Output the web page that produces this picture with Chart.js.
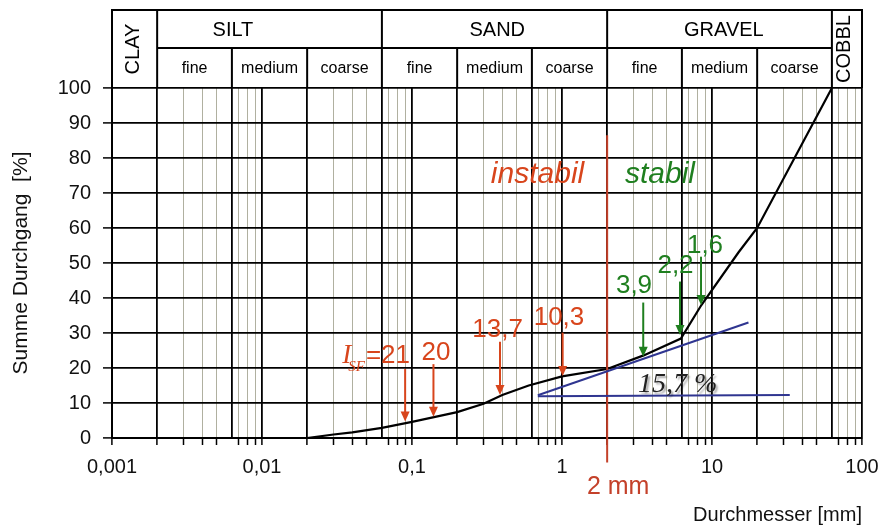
<!DOCTYPE html>
<html>
<head>
<meta charset="utf-8">
<script src="https://cdn.jsdelivr.net/npm/chart.js@4.4.1/dist/chart.umd.min.js"></script>
<style>
  html, body { margin: 0; padding: 0; background: #fff; }
</style>
</head>
<body>
<canvas id="sieveChart" width="885" height="529"></canvas>
<script>
// Sieblinie: Durchmesser [mm] / Summe Durchgang [%]
const diameters = [0.02, 0.03, 0.04, 0.063, 0.1, 0.2, 0.3, 0.4, 0.6, 1, 2, 3.5, 6.2, 8.5, 15, 20, 63];
const passing   = [0, 1, 1.6, 2.9, 4.6, 7.4, 9.8, 12.3, 15, 17.6, 19.7, 23.6, 28.4, 38, 53, 60, 100];

// tangent construction (blue) and the 2 mm limit (red)
const tangentX = [0.69, 17.5];
const tangentY = [12.2, 33];
const baseX = [0.69, 33];
const baseY = [11.9, 12.3];
const limitX = [2, 2];
const limitY = [-7, 86.5];

// I_SF arrows
const instableX    = [0.09, 0.139, 0.386, 1.01];
const instableTop  = [19.7, 21.1, 27.5, 30.1];
const instableTip  = [4.7, 6.1, 12.3, 17.7];
const instableText = ['21', '20', '13,7', '10,3'];
const instableLblX = [0.097, 0.1445, 0.372, 0.955];
const instableLblY = [21.4, 22.3, 28.9, 32.3];
const stableX    = [3.48, 6.12, 8.45];
const stableTop  = [38.7, 44.7, 51.8];
const stableTip  = [23.2, 29.4, 38];
const stableText = ['3,9', '2,2', '1,6'];
const stableLblX = [3.02, 5.71, 8.98];
const stableLblY = [41.3, 47.1, 52.9];

// axes
const xDecades = [0.001, 0.01, 0.1, 1, 10, 100];
const xTickLabels = ['0,001', '0,01', '0,1', '1', '10', '100'];
const xSubSteps = [1, 2, 3, 4, 5, 6.3, 7, 8, 9];

// soil fractions header
const mainFractions = ['CLAY', 'SILT', 'SAND', 'GRAVEL', 'COBBL'];
const mainBounds = [0.001, 0.002, 0.063, 2, 63, 100];
const mainLabelAt = [0.00136, 0.0064, 0.37, 12, 75];
const subFractions = ['fine', 'medium', 'coarse'];
const subBounds = [0.002, 0.0063, 0.02, 0.063, 0.2, 0.63, 2, 6.3, 20, 63];

const RED = '#d8451c';
const GREEN = '#1f7f1f';
const BLUE = '#2f3590';
const GRID = '#b0b0a0';
const SANS = "'Liberation Sans', Arial, sans-serif";
const SERIF = "'Liberation Serif', 'Times New Roman', serif";

const xTickValues = [];
xDecades.slice(0, -1).forEach(d => xSubSteps.forEach(m => xTickValues.push(m * d)));
xTickValues.push(100);

function isMajorX(v) {
  const m = v / Math.pow(10, Math.floor(Math.log10(v) + 1e-9));
  return Math.abs(m - 1) < 1e-6 || Math.abs(m - 2) < 1e-6 || Math.abs(m - 6.3) < 1e-6;
}

const toPoints = (xs, ys) => xs.map((v, i) => ({ x: v, y: ys[i] }));

const headerPlugin = {
  id: 'header',
  afterDraw(chart) {
    const { ctx, chartArea: a, scales: { x, y } } = chart;
    const top = 10, mid = 48, bot = a.top;
    ctx.save();
    ctx.strokeStyle = '#000';
    ctx.lineWidth = 2;
    ctx.beginPath();
    ctx.moveTo(a.left - 1, top); ctx.lineTo(a.right + 1, top);
    ctx.moveTo(x.getPixelForValue(subBounds[0]), mid);
    ctx.lineTo(x.getPixelForValue(subBounds[subBounds.length - 1]), mid);
    mainBounds.forEach(v => {
      const px = x.getPixelForValue(v);
      ctx.moveTo(px, top); ctx.lineTo(px, bot);
    });
    subBounds.forEach(v => {
      const px = x.getPixelForValue(v);
      ctx.moveTo(px, mid); ctx.lineTo(px, bot);
    });
    ctx.stroke();

    ctx.fillStyle = '#000';
    ctx.textBaseline = 'middle';
    ctx.textAlign = 'center';
    mainFractions.forEach((name, i) => {
      const px = x.getPixelForValue(mainLabelAt[i]);
      ctx.font = '20px ' + SANS;
      if (i === 0 || i === mainFractions.length - 1) {
        ctx.save();
        ctx.translate(px, (top + bot) / 2);
        ctx.rotate(-Math.PI / 2);
        ctx.fillText(name, 0, 1);
        ctx.restore();
      } else {
        ctx.fillText(name, px, 30);
      }
    });
    ctx.font = '16px ' + SANS;
    for (let i = 0; i < subBounds.length - 1; i++) {
      const l = x.getPixelForValue(subBounds[i]);
      const r = x.getPixelForValue(subBounds[i + 1]);
      ctx.fillText(subFractions[i % 3], (l + r) / 2, 69);
    }

    // short ticks at 5 % steps
    ctx.lineWidth = 1.5;
    ctx.beginPath();
    y.ticks.forEach(t => {
      if (t.value % 10 !== 0) {
        const py = y.getPixelForValue(t.value);
        ctx.moveTo(a.left - 5, py); ctx.lineTo(a.left, py);
      }
    });
    ctx.stroke();
    ctx.restore();
  }
};

const overlayPlugin = {
  id: 'overlay',
  afterDatasetsDraw(chart) {
    const { ctx, scales: { x, y } } = chart;
    ctx.save();
    const arrow = (xv, top, tip, color) => {
      const px = x.getPixelForValue(xv);
      const y0 = y.getPixelForValue(top);
      const y1 = y.getPixelForValue(tip);
      ctx.strokeStyle = color;
      ctx.fillStyle = color;
      ctx.lineWidth = 2;
      ctx.beginPath(); ctx.moveTo(px, y0); ctx.lineTo(px, y1 - 8); ctx.stroke();
      ctx.beginPath();
      ctx.moveTo(px - 4.5, y1 - 10); ctx.lineTo(px + 4.5, y1 - 10); ctx.lineTo(px, y1);
      ctx.closePath(); ctx.fill();
    };
    instableX.forEach((v, i) => arrow(v, instableTop[i], instableTip[i], RED));
    stableX.forEach((v, i) => arrow(v, stableTop[i], stableTip[i], GREEN));

    ctx.textBaseline = 'alphabetic';
    ctx.font = '26px ' + SANS;
    ctx.fillStyle = RED;
    instableText.forEach((txt, i) => {
      const px = x.getPixelForValue(instableLblX[i]);
      const py = y.getPixelForValue(instableLblY[i]);
      if (i === 0) {
        ctx.textAlign = 'right';
        const full = '=' + txt;
        ctx.fillText(full, px, py);
        const w = ctx.measureText(full).width;
        ctx.font = 'italic 15px ' + SERIF;
        ctx.fillText('SF', px - w - 1, py + 8);
        const ws = ctx.measureText('SF').width;
        ctx.font = 'italic 27px ' + SERIF;
        ctx.fillText('I', px - w - ws + 2, py);
        ctx.font = '26px ' + SANS;
      } else {
        ctx.textAlign = 'center';
        ctx.fillText(txt, px, py);
      }
    });
    ctx.fillStyle = GREEN;
    ctx.textAlign = 'center';
    stableText.forEach((txt, i) => {
      ctx.fillText(txt, x.getPixelForValue(stableLblX[i]), y.getPixelForValue(stableLblY[i]));
    });

    ctx.font = 'italic 30px ' + SANS;
    ctx.fillStyle = RED;
    ctx.fillText('instabil', x.getPixelForValue(0.687), y.getPixelForValue(72.9));
    ctx.fillStyle = GREEN;
    ctx.fillText('stabil', x.getPixelForValue(4.5), y.getPixelForValue(72.9));

    ctx.fillStyle = '#c4412a';
    ctx.font = '25px ' + SANS;
    ctx.fillText('2 mm', x.getPixelForValue(2) + 11, 494);

    ctx.textAlign = 'left';
    ctx.font = 'italic 28px ' + SERIF;
    ctx.shadowColor = 'rgba(0,0,0,0.35)';
    ctx.shadowOffsetX = 2;
    ctx.shadowOffsetY = 2;
    ctx.shadowBlur = 2;
    ctx.fillStyle = '#222';
    ctx.fillText('15,7 %', x.getPixelForValue(3.21), y.getPixelForValue(13.1));
    ctx.restore();
  }
};

new Chart(document.getElementById('sieveChart'), {
  type: 'line',
  data: {
    datasets: [
      {
        data: toPoints(tangentX, tangentY),
        borderColor: BLUE, borderWidth: 2, pointRadius: 0
      },
      {
        data: toPoints(baseX, baseY),
        borderColor: BLUE, borderWidth: 2, pointRadius: 0
      },
      {
        data: toPoints(limitX, limitY),
        borderColor: '#c4412a', borderWidth: 2, pointRadius: 0, clip: false
      },
      {
        data: toPoints(diameters, passing),
        borderColor: '#000', borderWidth: 2.2, pointRadius: 0
      }
    ]
  },
  options: {
    responsive: false,
    animation: false,
    devicePixelRatio: 1,
    layout: { padding: { left: 0, right: 23, top: 88, bottom: 0 } },
    plugins: { legend: { display: false }, tooltip: { enabled: false } },
    scales: {
      x: {
        type: 'logarithmic',
        min: 0.001,
        max: 100,
        afterBuildTicks: s => { s.ticks = xTickValues.map(v => ({ value: v })); },
        afterFit: s => { s.height = 91; s.paddingLeft = 0; s.paddingRight = 0; },
        border: { display: true, color: '#000', width: 2 },
        grid: {
          color: c => isMajorX(c.tick.value) ? '#000' : GRID,
          lineWidth: c => isMajorX(c.tick.value) ? 1.8 : 1,
          tickColor: c => Math.abs(c.tick.value / 6.3 / Math.pow(10, Math.floor(Math.log10(c.tick.value))) - 1) < 1e-6 ? 'transparent' : '#000',
          tickLength: 7,
          tickWidth: 1.5
        },
        ticks: {
          autoSkip: false,
          maxRotation: 0,
          minRotation: 0,
          padding: 10,
          color: '#111',
          font: { size: 20, family: SANS },
          callback: v => {
            const i = xDecades.findIndex(d => Math.abs(v / d - 1) < 1e-6);
            return i >= 0 ? xTickLabels[i] : '';
          }
        },
        title: {
          display: true,
          text: 'Durchmesser [mm]',
          align: 'end',
          color: '#111',
          font: { size: 20, family: SANS },
          padding: { top: 0, bottom: 2 }
        }
      },
      y: {
        min: 0,
        max: 100,
        afterFit: s => { s.width = 112; s.paddingTop = 0; s.paddingBottom = 0; },
        border: { display: true, color: '#000', width: 2 },
        grid: {
          color: c => c.tick.value % 10 === 0 ? '#000' : GRID,
          lineWidth: c => c.tick.value % 10 === 0 ? 1.8 : 1,
          tickColor: c => c.tick.value % 10 === 0 ? '#000' : 'transparent',
          tickLength: 9,
          tickWidth: 1.5
        },
        ticks: {
          stepSize: 5,
          padding: 12,
          color: '#111',
          font: { size: 20, family: SANS },
          callback: v => v % 10 === 0 ? v : ''
        },
        title: {
          display: true,
          text: 'Summe Durchgang  [%]',
          color: '#111',
          font: { size: 21, family: SANS },
          padding: { top: 9, bottom: 0 }
        }
      }
    }
  },
  plugins: [headerPlugin, overlayPlugin]
});
</script>
</body>
</html>
